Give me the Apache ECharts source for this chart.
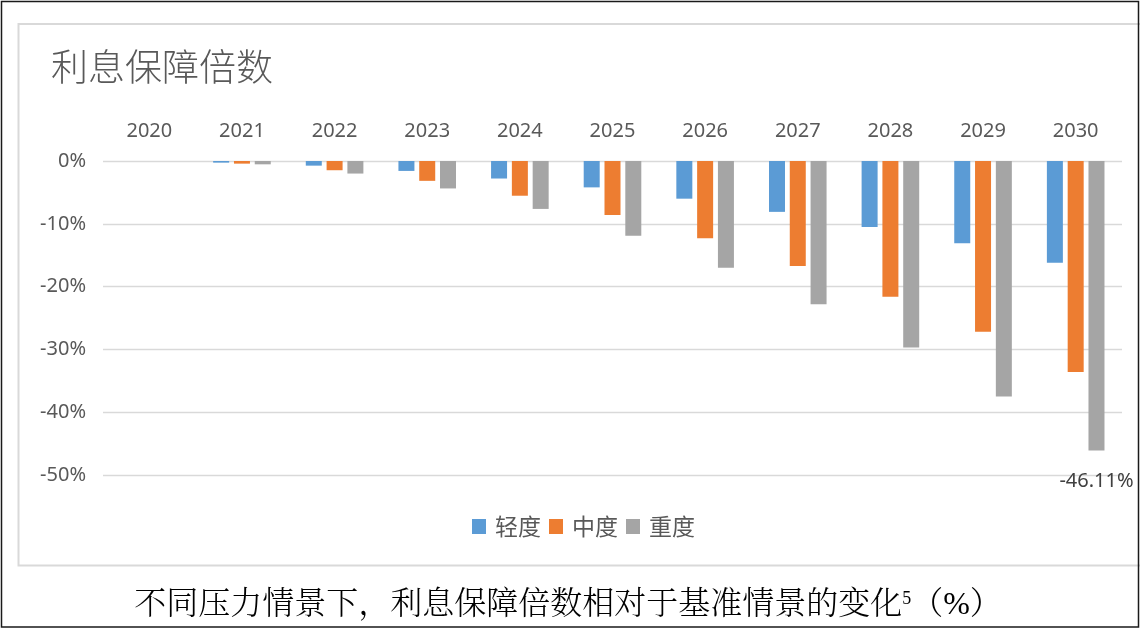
<!DOCTYPE html>
<html>
<head>
<meta charset="utf-8">
<script src="https://cdn.jsdelivr.net/npm/echarts@6/dist/echarts.min.js"></script>
<style>
html,body{margin:0;padding:0;background:#fff;}
#chart{width:1140px;height:628px;}
</style>
</head>
<body>
<div id="chart"></div>
<script>
const categories = ['2020','2021','2022','2023','2024','2025','2026','2027','2028','2029','2030'];
const seriesNames = ['轻度','中度','重度'];
const mild = [0, -0.26, -0.74, -1.58, -2.79, -4.2, -6.0, -8.1, -10.5, -13.1, -16.2];
const moderate = [0, -0.42, -1.47, -3.16, -5.53, -8.6, -12.3, -16.7, -21.6, -27.2, -33.6];
const severe = [0, -0.53, -2.0, -4.37, -7.63, -11.9, -17.0, -22.8, -29.7, -37.5, -46.11];
const yTicks = { min: -50, max: 0, interval: 10 };
const titleText = '利息保障倍数';
const captionText = '不同压力情景下，利息保障倍数相对于基准情景的变化{s|5}（%）';
const labeledIndex = 10;

const colors = ['#5B9BD5', '#ED7D31', '#A5A5A5'];
const numFont = '"Noto Sans", "Noto Sans CJK SC", sans-serif';
const cjkFont = '"Noto Sans CJK SC", "Noto Sans", sans-serif';

const chart = echarts.init(document.getElementById('chart'), null, { renderer: 'canvas' });

function barData(arr, withLabel) {
  return arr.map((v, i) => {
    if (withLabel && i === labeledIndex) {
      return {
        value: v,
        label: {
          show: true, position: 'bottom', distance: 21,
          formatter: v.toFixed(2) + '%',
          fontSize: 20, color: '#404040', fontFamily: numFont
        }
      };
    }
    return v;
  });
}

const option = {
  animation: false,
  backgroundColor: '#ffffff',
  color: colors,
  title: {
    text: titleText, left: 51, top: 48, padding: 0,
    textStyle: { fontSize: 37, fontWeight: 300, color: '#595959', fontFamily: cjkFont }
  },
  legend: {
    data: seriesNames, left: 467, top: 510, icon: 'rect',
    itemWidth: 14, itemHeight: 15, itemGap: 8,
    textStyle: { fontSize: 23, color: '#595959', fontFamily: cjkFont, padding: [0, 0, 0, 4] }
  },
  grid: { left: 103, right: 18, top: 161, bottom: 153, containLabel: false },
  xAxis: {
    type: 'category', data: categories, position: 'top',
    axisLine: { show: false }, axisTick: { show: false },
    axisLabel: { fontSize: 20, color: '#595959', fontFamily: numFont, margin: 20 }
  },
  yAxis: {
    type: 'value', min: yTicks.min, max: yTicks.max, interval: yTicks.interval,
    axisLine: { show: false }, axisTick: { show: false },
    axisLabel: { fontSize: 20, color: '#595959', fontFamily: numFont, margin: 17,
      formatter: v => v + '%' },
    splitLine: { lineStyle: { color: '#d9d9d9', width: 1.3 } }
  },
  series: [
    { name: seriesNames[0], type: 'bar', data: barData(mild, false), barWidth: 16, barGap: '30%' },
    { name: seriesNames[1], type: 'bar', data: barData(moderate, false), barWidth: 16, barGap: '30%' },
    { name: seriesNames[2], type: 'bar', data: barData(severe, true), barWidth: 16, barGap: '30%' }
  ],
  graphic: [
    { type: 'rect', silent: true, shape: { x: 18.5, y: 24, width: 1130, height: 541.5 },
      style: { fill: null, stroke: '#d9d9d9', lineWidth: 2 } },
    { type: 'rect', silent: true, shape: { x: 1.5, y: 1.5, width: 1137, height: 625.5 },
      style: { fill: null, stroke: '#1a1a1a', lineWidth: 1.5 } },
    { type: 'text', silent: true, x: 568, y: 606,
      style: {
        text: captionText, fontSize: 32, fill: '#000',
        fontFamily: '"Liberation Serif", "Noto Serif CJK SC", "Noto Sans CJK SC", serif',
        fontWeight: 300,
        align: 'center', verticalAlign: 'middle',
        rich: { s: { fontSize: 18, verticalAlign: 'top', fill: '#000',
          fontFamily: '"Liberation Serif", serif', padding: [0, 0, 8, 0] } }
      } }
  ]
};
chart.setOption(option);
</script>
</body>
</html>
